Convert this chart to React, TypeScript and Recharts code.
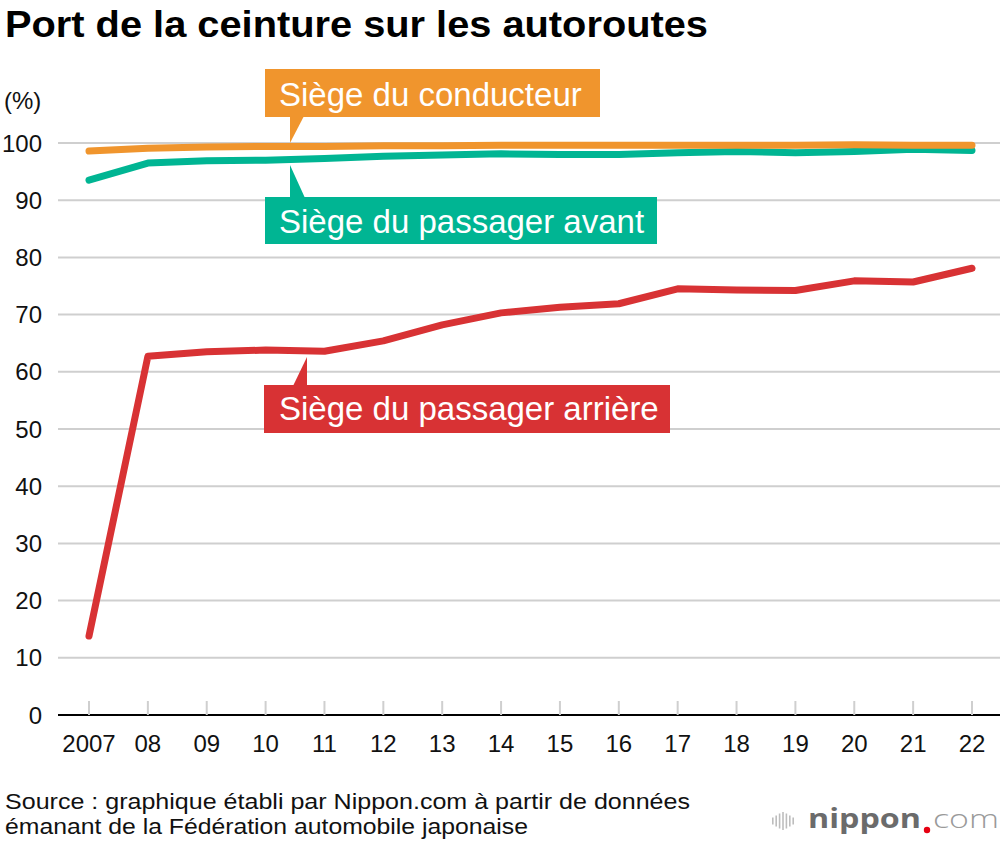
import { LineChart, Line, XAxis, YAxis, CartesianGrid } from 'recharts';

// survey years (first one full, then two-digit)
const years = ['2007', '08', '09', '10', '11', '12', '13', '14', '15', '16', '17', '18', '19', '20', '21', '22'];
// seat belt use on expressways, %
const driverSeat = [98.6, 99.1, 99.3, 99.4, 99.4, 99.5, 99.5, 99.6, 99.6, 99.6, 99.6, 99.6, 99.6, 99.7, 99.6, 99.6];
const frontPassenger = [93.5, 96.5, 96.9, 97.0, 97.3, 97.7, 97.9, 98.1, 98.0, 98.0, 98.3, 98.5, 98.3, 98.5, 98.9, 98.7];
const rearPassenger = [13.8, 62.7, 63.5, 63.8, 63.6, 65.4, 68.2, 70.3, 71.3, 71.9, 74.5, 74.3, 74.2, 75.9, 75.7, 78.1];
const yTicks = [0, 10, 20, 30, 40, 50, 60, 70, 80, 90, 100];

const ORANGE = '#f0952d';
const GREEN = '#00b593';
const RED = '#d83234';
const FONT = '"Liberation Sans", Arial, Helvetica, sans-serif';

const data = years.map((year, i) => ({
  year,
  driver: driverSeat[i],
  front: frontPassenger[i],
  rear: rearPassenger[i],
}));

const YearTick = (props: any) => {
  const { x, y, payload } = props;
  return (
    <g>
      <line x1={x} x2={x} y1={y - 14} y2={y} stroke="#cfcfcf" strokeWidth={2} />
      <text x={x} y={y + 37} textAnchor="middle" fontSize={24} fill="#111" fontFamily={FONT}>
        {payload.value}
      </text>
    </g>
  );
};

export default function App() {
  return (
    <div style={{ position: 'absolute', left: 0, top: 0, width: 1000, height: 846, background: '#fff', fontFamily: FONT }}>
      <div style={{ position: 'absolute', left: 0, top: 0 }}>
        <LineChart width={1000} height={846} data={data} margin={{ top: 143, right: 0, bottom: 81, left: 0 }}>
          <CartesianGrid vertical={false} stroke="#cfcfcf" strokeWidth={2} />
          <XAxis
            dataKey="year"
            height={50}
            interval={0}
            padding={{ left: 31, right: 28 }}
            axisLine={{ stroke: '#000', strokeWidth: 2 }}
            tickLine={false}
            tickSize={0}
            tickMargin={0}
            tick={(p: any) => <YearTick {...p} />}
          />
          <YAxis
            width={58}
            domain={[0, 100]}
            ticks={yTicks}
            interval={0}
            axisLine={false}
            tickLine={false}
            tickSize={0}
            tickMargin={16}
            tick={{ fill: '#111', fontSize: 24, fontFamily: FONT }}
          />
          <Line type="linear" dataKey="rear" stroke={RED} strokeWidth={7} dot={false} strokeLinecap="round" strokeLinejoin="round" isAnimationActive={false} />
          <Line type="linear" dataKey="front" stroke={GREEN} strokeWidth={7} dot={false} strokeLinecap="round" strokeLinejoin="round" isAnimationActive={false} />
          <Line type="linear" dataKey="driver" stroke={ORANGE} strokeWidth={7} dot={false} strokeLinecap="round" strokeLinejoin="round" isAnimationActive={false} />
        </LineChart>
      </div>

      <svg width={1000} height={846} style={{ position: 'absolute', left: 0, top: 0, pointerEvents: 'none' }} fontFamily={FONT}>
        <text x={5} y={37} fontSize={37} fontWeight={700} fill="#000" textLength={703} lengthAdjust="spacingAndGlyphs">
          Port de la ceinture sur les autoroutes
        </text>
        <text x={4} y={109} fontSize={24} fill="#111">(%)</text>

        {/* callouts */}
        <rect x={265} y={69} width={335} height={48} fill={ORANGE} />
        <polygon points="290,116 304,116 290,143" fill={ORANGE} />
        <text x={279} y={106} fontSize={33} fill="#fff">Siège du conducteur</text>

        <rect x={265} y={197} width={392} height={47} fill={GREEN} />
        <polygon points="290,165 290,198 305,198" fill={GREEN} />
        <text x={279} y={233} fontSize={33} fill="#fff">Siège du passager avant</text>

        <rect x={264} y={385} width={406} height={48} fill={RED} />
        <polygon points="307,357 307,386 293,386" fill={RED} />
        <text x={279} y={420} fontSize={33} fill="#fff">Siège du passager arrière</text>

        {/* source */}
        <text x={5} y={809} fontSize={22} fill="#111" textLength={685} lengthAdjust="spacingAndGlyphs">
          Source : graphique établi par Nippon.com à partir de données
        </text>
        <text x={5} y={834} fontSize={22} fill="#111" textLength={523} lengthAdjust="spacingAndGlyphs">
          émanant de la Fédération automobile japonaise
        </text>

        {/* logo */}
        {[7, 11, 15, 18, 15, 11, 7].map((h, i) => (
          <rect key={i} x={772 + i * 3.4} y={821 - h / 2} width={1.6} height={h} fill="#bdbdbd" />
        ))}
        <text x={808} y={828} fontSize={26} fontWeight={700} fill="#6b6b6b" fontFamily='"Open Sans", sans-serif' textLength={113} lengthAdjust="spacingAndGlyphs">
          nippon
        </text>
        <circle cx={927} cy={830} r={3.2} fill="#e60012" />
        <text x={933} y={828} fontSize={26} fontWeight={300} fill="#9a9a9a" fontFamily='"Open Sans", sans-serif' textLength={66} lengthAdjust="spacingAndGlyphs">
          com
        </text>
      </svg>
    </div>
  );
}
